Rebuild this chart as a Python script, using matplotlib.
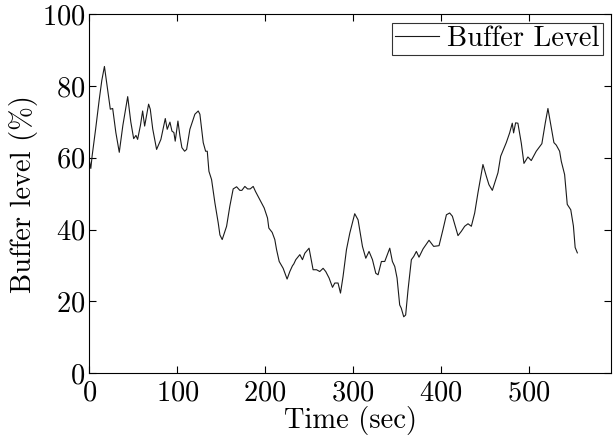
import matplotlib
matplotlib.use("Agg")
import matplotlib.pyplot as plt

plt.rcParams["font.family"] = ["cmr10", "DejaVu Serif"]
plt.rcParams["axes.formatter.use_mathtext"] = True
plt.rcParams["mathtext.fontset"] = "cm"

# Playback buffer occupancy over the session
time_sec = [
    0, 1.5, 3, 7, 11, 14, 17, 20, 23.7, 26.4, 30, 33.9, 38, 43.5, 47, 50.3,
    52.9, 54.8, 58, 60.5, 62.8, 67.3, 69.2, 72, 76.4, 81.3, 86.3, 88.5, 91.6,
    93.9, 96.1, 97.6, 100.7, 103, 105.2, 108.3, 110.6, 114.3, 120, 123.8,
    125.7, 129.5, 132.2, 134.1, 136, 139, 142.8, 146.6, 148.5, 151.1, 156.1,
    159.8, 163.6, 167.5, 171.2, 173.5, 176.9, 180, 183, 186.4, 189, 194,
    198.9, 202.7, 204.2, 208, 211, 213, 216, 220.5, 225, 228.1, 231.1, 232.6,
    234.9, 239.5, 242.5, 245.2, 250, 254.6, 258.5, 262.2, 266, 269, 272.8,
    276.7, 279.3, 283, 285.8, 288.7, 292.6, 296.4, 302, 305.8, 310.8, 314.6,
    318.3, 322.2, 326, 328.6, 332.4, 336.2, 341.9, 344.9, 347.6, 350.2, 353.2,
    355, 357.8, 360, 362.7, 366.5, 369.2, 372.2, 375.2, 379.8, 386.6, 391.9,
    398, 402.5, 406.4, 410.1, 413.2, 419.6, 423.4, 427.2, 431, 434.8, 438.6,
    442.3, 448, 451.9, 454.8, 458.7, 465.1, 468.2, 474.6, 478.4, 481.4, 482.9,
    485.2, 487.8, 491.7, 494.7, 499.2, 503, 508.7, 515.1, 519, 522, 525.8,
    528.8, 531.5, 535.3, 537.2, 541, 544, 548, 551, 553, 555.5,
]
buffer_pct = [
    59, 57, 60.5, 68, 76, 81.5, 85.4, 80, 73.5, 73.7, 67, 61.5, 69, 77, 70,
    65.3, 66.2, 65.1, 69, 73, 68.8, 74.9, 73.5, 68, 62.3, 65.1, 70.9, 67.9,
    69.9, 67.4, 67, 64.6, 70.2, 66, 62.8, 61.8, 62.3, 67.9, 72.1, 73.0, 72.1,
    64.2, 61.8, 61.8, 56.2, 53.9, 47.4, 41.8, 38.5, 37.2, 40.9, 46.5, 51.3,
    51.9, 50.9, 50.9, 52.0, 51.3, 51.3, 52.0, 50.6, 48.3, 46.0, 43.2, 40.4,
    39.2, 37.2, 34.4, 31.1, 29.2, 26.2, 28.3, 29.9, 30.4, 31.6, 33.0, 31.6,
    33.4, 34.8, 28.8, 28.8, 28.3, 29.2, 28.3, 26.5, 23.9, 25.1, 25.1, 22.3,
    26.9, 34.4, 39.0, 44.4, 42.7, 35.3, 32.0, 33.9, 31.6, 27.8, 27.4, 31.1,
    31.1, 34.8, 31.1, 29.7, 26.5, 19.0, 18.1, 15.7, 16.2, 23.2, 31.6, 32.5,
    33.9, 32.3, 34.6, 37.0, 35.3, 35.5, 40.0, 44.1, 44.6, 43.7, 38.3, 39.5,
    40.9, 41.6, 40.9, 44.6, 50.2, 58.1, 54.8, 52.5, 50.9, 55.8, 60.4, 64.2,
    66.9, 69.6, 66.9, 69.7, 69.6, 64.0, 58.4, 60.2, 59.2, 61.8, 63.9, 69.7,
    73.7, 68.3, 64.2, 63.5, 61.8, 59.0, 55.3, 47, 45.5, 41, 35, 33.5,
]

x_ticks = [0, 100, 200, 300, 400, 500]
y_ticks = [0, 20, 40, 60, 80, 100]

fig = plt.figure(figsize=(6.13, 4.38), dpi=100)
ax = fig.add_axes([0.146, 0.148, 0.851, 0.82])

ax.plot(time_sec, buffer_pct, color="#1a1a1a", linewidth=0.8, label="Buffer Level")

ax.set_xlim(0, 594)
ax.set_ylim(0, 100)
ax.set_xticks(x_ticks)
ax.set_yticks(y_ticks)
ax.tick_params(direction="in", top=True, right=True, length=5, width=0.8,
               labelsize=20.5)
ax.tick_params(axis="x", pad=5)
ax.tick_params(axis="y", pad=3)
for s in ax.spines.values():
    s.set_linewidth(0.8)

ax.set_xlabel("Time (sec)", fontsize=20.5, labelpad=0)
ax.set_ylabel("Buffer level (%)", fontsize=20.5, labelpad=3)

leg = ax.legend(loc="upper right", fontsize=20.5, frameon=True, fancybox=False,
                borderaxespad=0.3, borderpad=0.1, handlelength=1.55,
                handletextpad=0.3)
leg.get_frame().set_edgecolor("black")
leg.get_frame().set_linewidth(0.8)

fig.savefig("out.png", dpi=100)
